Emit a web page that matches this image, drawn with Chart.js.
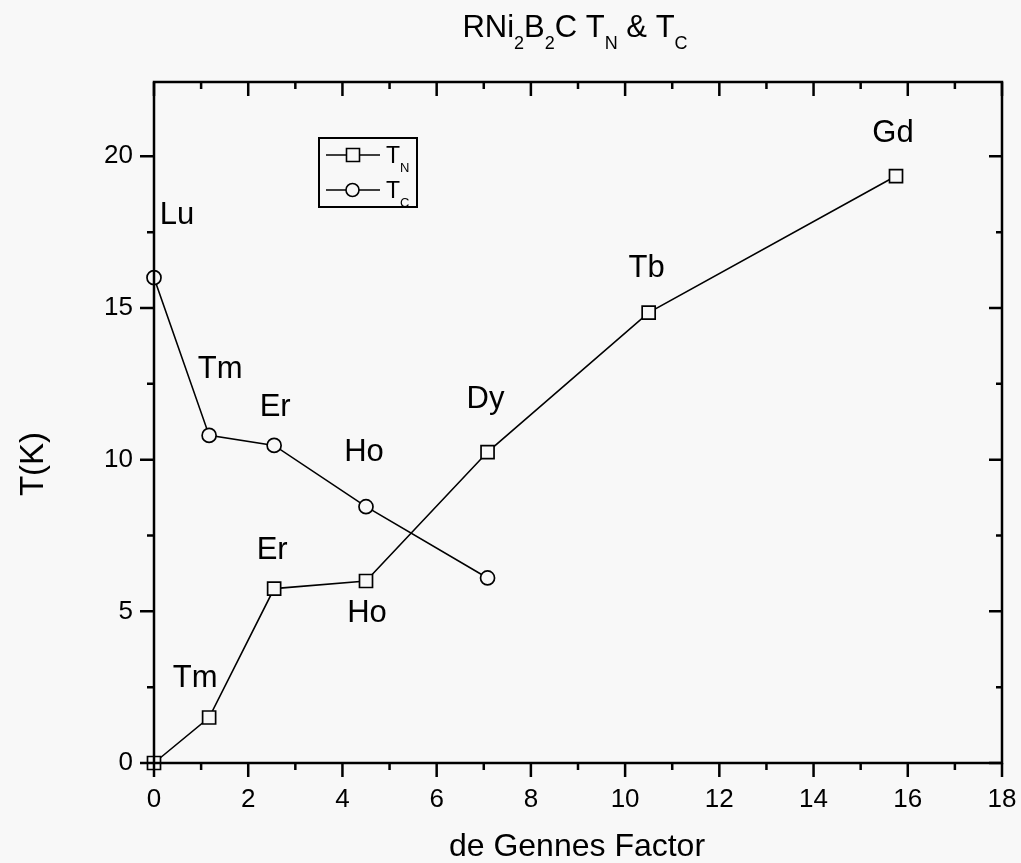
<!DOCTYPE html>
<html>
<head>
<meta charset="utf-8">
<script src="https://cdn.jsdelivr.net/npm/chart.js@4/dist/chart.umd.min.js"></script>
<style>
  html, body { margin: 0; padding: 0; background: #f8f8f8; }
  #wrap { width: 1021px; height: 863px; position: relative; }
</style>
</head>
<body>
<div id="wrap"><canvas id="c" width="1021" height="863"></canvas></div>
<script>
// de Gennes factor (x) and Néel temperature T_N (K) for RNi2B2C
const tnFactor   = [0, 1.17, 2.55, 4.5, 7.08, 10.5, 15.75];
const tnValues   = [0, 1.5, 5.75, 6.0, 10.25, 14.85, 19.35];
const tnElements = ['', 'Tm', 'Er', 'Ho', 'Dy', 'Tb', 'Gd'];

// de Gennes factor (x) and superconducting T_C (K)
const tcFactor   = [0, 1.17, 2.55, 4.5, 7.08];
const tcValues   = [16.0, 10.8, 10.47, 8.45, 6.1];
const tcElements = ['Lu', 'Tm', 'Er', 'Ho', ''];

// axis ticks
const xTicks = [0, 2, 4, 6, 8, 10, 12, 14, 16, 18];
const yTicks = [0, 5, 10, 15, 20];

// label offsets (px) from each marker
const tnLabelOffsets = [[0, 0], [-14, -39], [-2, -38], [1, 32], [-2, -53], [-2, -44], [-3, -43]];
const tcLabelOffsets = [[23, -62], [11, -66], [1, -38], [-2, -54], [0, 0]];

const BG = '#f8f8f8';
const FONT = '"Liberation Sans", Arial, sans-serif';

function points(xs, ys) { return xs.map((x, i) => ({ x: x, y: ys[i] })); }

// draws a run of text pieces, some as subscripts
function drawRich(ctx, pieces, x, y, mainSize, subSize, subDrop, align) {
  let total = 0;
  pieces.forEach(p => {
    ctx.font = (p.sub ? subSize : mainSize) + 'px ' + FONT;
    p.w = ctx.measureText(p.t).width;
    total += p.w;
  });
  let cx = align === 'center' ? x - total / 2 : x;
  ctx.textAlign = 'left';
  ctx.textBaseline = 'alphabetic';
  pieces.forEach(p => {
    ctx.font = (p.sub ? subSize : mainSize) + 'px ' + FONT;
    ctx.fillText(p.t, cx, p.sub ? y + subDrop : y);
    cx += p.w;
  });
}

const framePlugin = {
  id: 'frame',
  afterDatasetsDraw(chart) {
    const ctx = chart.ctx;
    const a = chart.chartArea;
    const xs = chart.scales.x, ys = chart.scales.y;
    ctx.save();
    ctx.strokeStyle = '#000';
    ctx.lineWidth = 2.5;
    ctx.strokeRect(a.left, a.top, a.right - a.left, a.bottom - a.top);

    ctx.lineWidth = 2.5;
    ctx.beginPath();
    // x ticks: outward at bottom, inward at top
    for (let v = 0; v <= 18; v += 1) {
      const px = xs.getPixelForValue(v);
      const major = v % 2 === 0;
      ctx.moveTo(px, a.bottom); ctx.lineTo(px, a.bottom + (major ? 14 : 7));
      ctx.moveTo(px, a.top); ctx.lineTo(px, a.top + (major ? 14 : 7));
    }
    // y ticks: outward at left, inward at right
    for (let v = 0; v <= 20; v += 2.5) {
      const py = ys.getPixelForValue(v);
      const major = v % 5 === 0;
      ctx.moveTo(a.left, py); ctx.lineTo(a.left - (major ? 14 : 7), py);
      ctx.moveTo(a.right, py); ctx.lineTo(a.right - (major ? 13 : 6), py);
    }
    ctx.stroke();

    // element labels beside the markers
    ctx.fillStyle = '#000';
    ctx.font = '31px ' + FONT;
    ctx.textAlign = 'center';
    ctx.textBaseline = 'middle';
    const tnMeta = chart.getDatasetMeta(0).data;
    tnElements.forEach((t, i) => {
      if (!t) return;
      const p = tnMeta[i];
      ctx.fillText(t, p.x + tnLabelOffsets[i][0], p.y + tnLabelOffsets[i][1]);
    });
    const tcMeta = chart.getDatasetMeta(1).data;
    tcElements.forEach((t, i) => {
      if (!t) return;
      const p = tcMeta[i];
      ctx.fillText(t, p.x + tcLabelOffsets[i][0], p.y + tcLabelOffsets[i][1]);
    });

    // legend box
    const L = { x: 319, y: 138, w: 98, h: 69 };
    ctx.lineWidth = 2;
    ctx.strokeRect(L.x, L.y, L.w, L.h);
    ctx.lineWidth = 1.6;
    const rows = [{ y: 155, shape: 'rect', sub: 'N' }, { y: 190, shape: 'circle', sub: 'C' }];
    rows.forEach(r => {
      ctx.beginPath();
      ctx.moveTo(326, r.y); ctx.lineTo(380, r.y);
      ctx.stroke();
      ctx.fillStyle = BG;
      ctx.beginPath();
      if (r.shape === 'rect') ctx.rect(346.5, r.y - 6.5, 13, 13);
      else ctx.arc(352.5, r.y, 6.5, 0, Math.PI * 2);
      ctx.fill(); ctx.stroke();
      ctx.fillStyle = '#000';
      drawRich(ctx, [{ t: 'T' }, { t: r.sub, sub: true }], 386, r.y + 8, 23, 13, 9, 'left');
    });

    // title
    drawRich(ctx, [
      { t: 'RNi' }, { t: '2', sub: true }, { t: 'B' }, { t: '2', sub: true },
      { t: 'C T' }, { t: 'N', sub: true }, { t: ' & T' }, { t: 'C', sub: true }
    ], 575, 37, 31, 18, 12, 'center');

    // axis titles
    ctx.font = '32px ' + FONT;
    ctx.textAlign = 'center';
    ctx.textBaseline = 'alphabetic';
    ctx.fillText('de Gennes Factor', 577, 856);
    ctx.font = '33px ' + FONT;
    ctx.save();
    ctx.translate(43, 464);
    ctx.rotate(-Math.PI / 2);
    ctx.fillText('T(K)', 0, 0);
    ctx.restore();
    ctx.restore();
  }
};

new Chart(document.getElementById('c'), {
  type: 'scatter',
  data: {
    datasets: [
      {
        label: 'T_N',
        data: points(tnFactor, tnValues),
        showLine: true,
        borderColor: '#000',
        borderWidth: 1.6,
        pointStyle: 'rect',
        pointRadius: 9.2,
        pointBorderWidth: 1.7,
        pointBackgroundColor: BG,
        pointBorderColor: '#000',
        clip: false
      },
      {
        label: 'T_C',
        data: points(tcFactor, tcValues),
        showLine: true,
        borderColor: '#000',
        borderWidth: 1.6,
        pointStyle: 'circle',
        pointRadius: 7,
        pointBorderWidth: 1.7,
        pointBackgroundColor: BG,
        pointBorderColor: '#000',
        clip: false
      }
    ]
  },
  options: {
    responsive: false,
    animation: false,
    devicePixelRatio: 1,
    layout: { padding: { top: 82, right: 19, left: 0, bottom: 0 } },
    plugins: { legend: { display: false }, tooltip: { enabled: false }, title: { display: false } },
    scales: {
      x: {
        type: 'linear', min: 0, max: 18,
        afterBuildTicks: s => { s.ticks = xTicks.map(v => ({ value: v })); },
        afterFit: s => { s.height = 100; s.paddingLeft = 0; s.paddingRight = 0; },
        grid: { display: false, drawTicks: false },
        border: { display: false },
        ticks: { color: '#000', font: { family: FONT, size: 26 }, padding: 21, maxRotation: 0 }
      },
      y: {
        type: 'linear', min: 0, max: 22.45,
        afterBuildTicks: s => { s.ticks = yTicks.map(v => ({ value: v })); },
        afterFit: s => { s.width = 154; s.paddingTop = 0; s.paddingBottom = 0; },
        grid: { display: false, drawTicks: false },
        border: { display: false },
        ticks: { color: '#000', font: { family: FONT, size: 26 }, padding: 21 }
      }
    }
  },
  plugins: [framePlugin]
});
</script>
</body>
</html>
